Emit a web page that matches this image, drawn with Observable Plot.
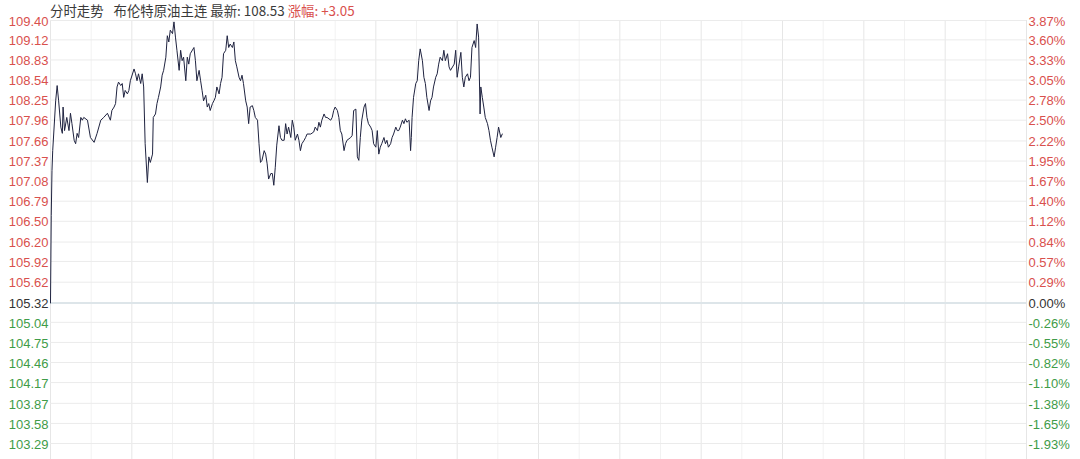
<!DOCTYPE html>
<html>
<head>
<meta charset="utf-8">
<script src="https://cdn.jsdelivr.net/npm/d3@7"></script>
<script src="https://cdn.jsdelivr.net/npm/@observablehq/plot@0.6"></script>
<style>
  html, body { margin: 0; padding: 0; background: #fff; }
  #wrap { position: relative; width: 1080px; height: 459px; overflow: hidden; }
  #title { position: absolute; left: 50px; top: 0px; font-family: "Noto Sans CJK SC", "Noto Sans", sans-serif; font-size: 13.4px; line-height: 20px; color: #3a3a3a; white-space: pre; }
  #title .gap { display: inline-block; width: 10px; }
  #title .up { color: #d9504d; }
</style>
</head>
<body>
<div id="wrap">
  <div id="chart"></div>
  <div id="title">分时走势<span class="gap"></span>布伦特原油主连 最新: 108.53 <span class="up">涨幅: +3.05</span></div>
</div>
<script>
// minutes since session open
const minutes = [0,1,2,3,7,9,11,14,16,17,19,22,25,27,29,32,34,36,38,41,43,45,50,54,59,63,68,72,77,81,83,86,88,90,92,95,97,99,101,104,106,108,113,115,117,119,122,124,126,128,131,133,135,138,139,142,144,146,149,151,153,156,158,160,162,165,167,169,171,174,176,178,180,183,185,187,189,194,196,198,201,203,205,207,210,212,214,216,219,221,223,225,228,230,232,234,237,239,241,243,246,248,250,252,255,257,259,261,264,266,268,270,273,275,277,280,282,284,286,289,291,293,295,298,300,302,304,306,309,311,313,316,318,320,322,325,327,329,331,334,336,338,340,343,345,347,352,356,358,361,363,365,367,370,372,374,379,381,383,385,388,390,392,394,397,399,401,406,408,410,413,415,417,419,421,424,426,428,430,433,435,437,440,442,444,446,448,451,453,455,457,460,462,464,467,469,471,473,476,478,480,482,485,487,488,489,491,494,496,498,500,503,505,507,509,512,514,516,518,521,523,525,527,530,532,534,537,539,541,546,548,550,552,555,557,559,561,564,566,568,570,573,575,577,579,581,582,584,586,588,591,593,595,597,600,602,604,606,609,611];
const prices = [105.32,106.58,107.23,107.52,108.24,108.46,108.24,107.86,107.77,108.15,107.81,108.00,107.81,108.06,107.91,107.67,107.62,107.77,107.71,108.00,107.96,108.00,107.96,107.71,107.64,107.77,107.96,108.00,108.06,107.96,108.10,108.15,108.20,108.44,108.51,108.46,108.49,108.29,108.39,108.34,108.39,108.53,108.70,108.63,108.53,108.63,108.49,108.63,108.44,107.62,107.06,107.43,107.35,107.47,108.00,108.05,108.20,108.29,108.44,108.61,108.68,108.87,109.18,109.09,109.26,109.21,109.38,109.16,108.97,108.68,108.97,108.82,108.87,108.53,108.87,108.77,108.92,109.01,108.82,108.53,108.68,108.53,108.39,108.24,108.32,108.15,108.20,108.10,108.20,108.24,108.29,108.44,108.34,108.49,108.58,108.92,108.97,109.18,109.01,109.06,109.01,109.09,108.82,108.73,108.58,108.53,108.61,108.49,108.24,108.15,107.91,108.15,108.17,108.10,108.00,107.96,107.62,107.35,107.38,107.52,107.47,107.33,107.11,107.19,107.19,107.02,107.28,107.60,107.88,107.71,107.67,107.67,107.91,107.76,107.86,107.71,107.96,107.86,107.67,107.76,107.67,107.52,107.62,107.67,107.71,107.76,107.76,107.79,107.86,107.81,107.93,107.86,107.96,108.05,108.00,108.00,107.96,108.00,108.10,108.15,108.10,108.00,107.81,107.76,107.52,107.62,107.67,107.71,107.74,108.10,108.12,107.43,107.38,107.71,107.96,108.15,108.20,108.00,107.91,107.86,107.81,107.62,107.57,107.81,107.47,107.57,107.62,107.71,107.62,107.67,107.57,107.62,107.71,107.76,107.86,107.81,107.81,107.86,107.96,107.91,107.98,107.93,107.96,107.52,107.71,108.00,108.29,108.49,108.53,108.82,108.99,108.82,108.58,108.49,108.29,108.10,108.24,108.29,108.44,108.58,108.63,108.77,108.87,108.82,108.97,108.82,108.92,108.73,108.68,108.77,108.97,108.58,108.73,108.94,108.58,108.44,108.58,108.63,108.53,108.58,109.01,109.11,109.01,109.35,109.16,108.05,108.44,108.29,108.15,108.00,107.91,107.81,107.67,107.57,107.43,107.57,107.71,107.86,107.71,107.76];

// axis tick labels
const priceTicks = ["109.40","109.12","108.83","108.54","108.25","107.96","107.66","107.37","107.08","106.79","106.50","106.20","105.92","105.62","105.32","105.04","104.75","104.46","104.17","103.87","103.58","103.29"];
const pctTicks = ["3.87%","3.60%","3.33%","3.05%","2.78%","2.50%","2.22%","1.95%","1.67%","1.40%","1.12%","0.84%","0.57%","0.29%","0.00%","-0.26%","-0.55%","-0.82%","-1.10%","-1.38%","-1.65%","-1.93%"];
const prevClose = "105.32";
const sessionMinutes = 1320;

const data = minutes.map((t, i) => ({t, p: prices[i]}));
const ticks = priceTicks.map((s, i) => ({v: +s, label: s, pct: pctTicks[i]}));
const base = +prevClose;
const above = ticks.filter(d => d.v > base);
const at = ticks.filter(d => d.v === base);
const below = ticks.filter(d => d.v < base);

const majorX = d3.range(0, sessionMinutes + 1, sessionMinutes / 12);
const minorX = d3.range(sessionMinutes / 24, sessionMinutes, sessionMinutes / 12);

const RED = "#d9504d", GREEN = "#3f9c48", DARK = "#333";
const font = "Liberation Sans, Arial, sans-serif";

function labels(arr, fill) {
  return [
    Plot.text(arr, {y: "v", text: "label", frameAnchor: "left", textAnchor: "end", dx: -2, dy: 1, fill, fontSize: 13, fontFamily: font}),
    Plot.text(arr, {y: "v", text: "pct", frameAnchor: "right", textAnchor: "start", dx: 2, dy: 1, fill, fontSize: 13, fontFamily: font})
  ];
}

const chart = Plot.plot({
  width: 1080,
  height: 459,
  marginLeft: 50,
  marginRight: 54,
  marginTop: 20,
  marginBottom: 0,
  style: {background: "#fff", overflow: "visible"},
  x: {domain: [0, sessionMinutes], axis: null},
  y: {domain: [103.059, 109.40], axis: null},
  marks: [
    Plot.ruleX(minorX, {stroke: "#f2f2f2", strokeWidth: 1}),
    Plot.ruleX(majorX, {stroke: "#e6e6e6", strokeWidth: 1}),
    Plot.ruleY(ticks.filter(d => d.v !== base), {y: "v", stroke: "#ebebeb", strokeWidth: 1}),
    Plot.ruleY(at, {y: "v", stroke: "#dde5e9", strokeWidth: 2}),
    Plot.line(data, {x: "t", y: "p", stroke: "#1f2340", strokeWidth: 1}),
    ...labels(above, RED),
    ...labels(at, DARK),
    ...labels(below, GREEN)
  ]
});
document.getElementById("chart").appendChild(chart);
</script>
</body>
</html>
